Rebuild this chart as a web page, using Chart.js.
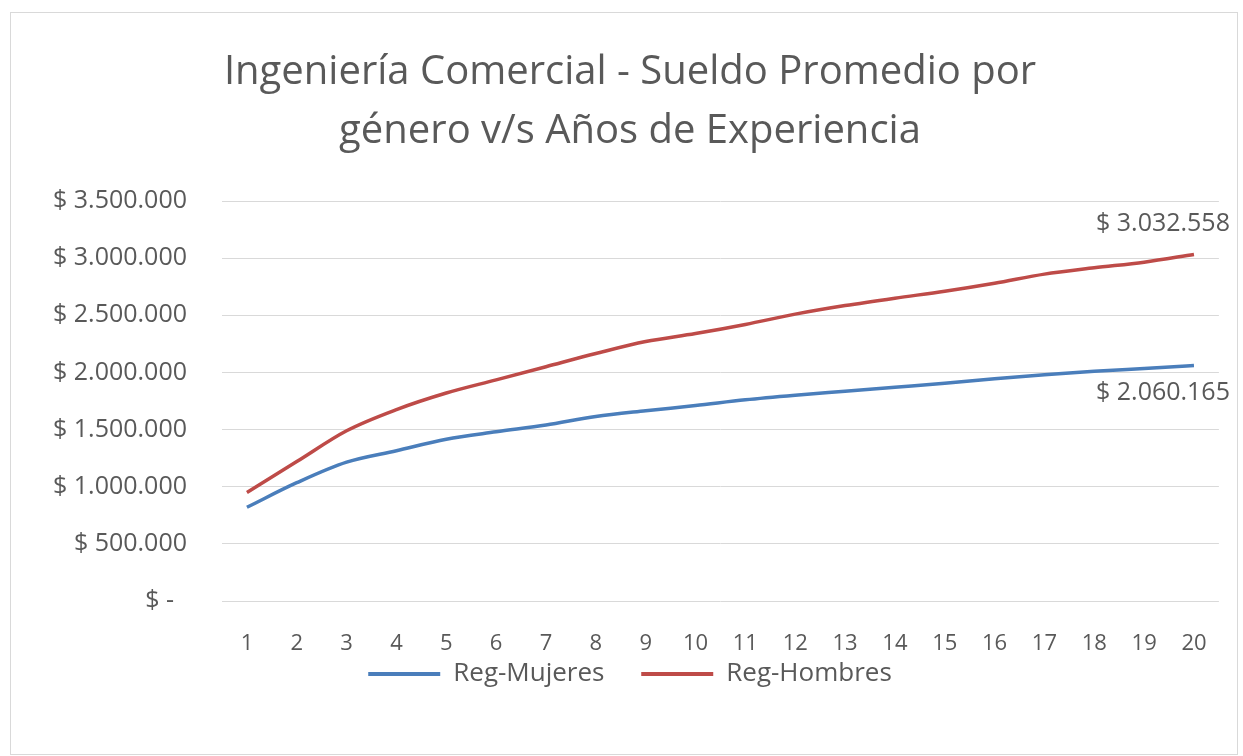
<!DOCTYPE html>
<html>
<head>
<meta charset="utf-8">
<script src="https://cdn.jsdelivr.net/npm/chart.js@4.4.1/dist/chart.umd.min.js"></script>
<style>
  html, body { margin: 0; padding: 0; background: #ffffff; }
  #frame { position: absolute; left: 10px; top: 12px; width: 1226px; height: 741px; border: 1px solid #d9d9d9; background: #fff; }
  #c { display: block; }
</style>
</head>
<body>
<div id="frame"><canvas id="c" width="1226" height="741"></canvas></div>
<script>
const categories = ['1','2','3','4','5','6','7','8','9','10','11','12','13','14','15','16','17','18','19','20'];
const regMujeres = [820000, 1035000, 1215000, 1315000, 1415000, 1480000, 1540000, 1615000, 1665000, 1710000, 1760000, 1800000, 1835000, 1870000, 1905000, 1945000, 1980000, 2010000, 2035000, 2060165];
const regHombres = [950000, 1220000, 1490000, 1675000, 1820000, 1935000, 2050000, 2165000, 2270000, 2340000, 2420000, 2510000, 2585000, 2650000, 2710000, 2780000, 2860000, 2915000, 2965000, 3032558];
const seriesNames = ['Reg-Mujeres', 'Reg-Hombres'];
const titleLines = ['Ingeniería Comercial - Sueldo Promedio por', 'género v/s Años de Experiencia'];
const yMin = 0, yMax = 3500000, yStep = 500000;

const BLUE = '#4a7ebb';
const RED = '#be4b48';
const TEXT = '#595959';
const FONT = "'Open Sans', 'Liberation Sans', sans-serif";

function fmt(n) {
  return String(Math.round(n)).replace(/\B(?=(\d{3})+(?!\d))/g, '.');
}

const lastLabels = {
  id: 'lastLabels',
  afterDatasetsDraw(chart) {
    const ctx = chart.ctx;
    ctx.save();
    ctx.font = "25px " + FONT;
    ctx.fillStyle = TEXT;
    ctx.textAlign = 'center';
    ctx.textBaseline = 'middle';
    chart.data.datasets.forEach((ds, i) => {
      const meta = chart.getDatasetMeta(i);
      const n = ds.data.length - 1;
      const pt = meta.data[n];
      const txt = '$ ' + fmt(ds.data[n]);
      const dy = i === 1 ? -31 : 27;
      ctx.fillText(txt, pt.x - 31, pt.y + dy);
    });
    ctx.restore();
  }
};

new Chart(document.getElementById('c'), {
  type: 'line',
  data: {
    labels: categories,
    datasets: [
      { label: seriesNames[0], data: regMujeres, borderColor: BLUE, backgroundColor: BLUE, borderWidth: 3.5, pointRadius: 0, cubicInterpolationMode: 'monotone' },
      { label: seriesNames[1], data: regHombres, borderColor: RED, backgroundColor: RED, borderWidth: 3.5, pointRadius: 0, cubicInterpolationMode: 'monotone' }
    ]
  },
  options: {
    responsive: false,
    animation: false,
    layout: { padding: { left: 30, right: 18, top: 0, bottom: 57 } },
    plugins: {
      title: {
        display: true,
        text: titleLines,
        color: TEXT,
        font: { family: FONT, size: 40, weight: 'normal', lineHeight: 1.475 },
        padding: { top: 30, bottom: 40 }
      },
      legend: {
        display: true,
        position: 'bottom',
        labels: {
          color: TEXT,
          font: { family: FONT, size: 26 },
          boxWidth: 72,
          boxHeight: 4,
          padding: 3,
          generateLabels(chart) {
            const n = chart.data.datasets.length;
            return chart.data.datasets.map((ds, i) => ({
              text: ds.label + (i < n - 1 ? '     ' : ''),
              fillStyle: ds.borderColor,
              strokeStyle: ds.borderColor,
              lineWidth: 0,
              fontColor: TEXT,
              datasetIndex: i,
              hidden: false
            }));
          }
        }
      },
      tooltip: { enabled: false }
    },
    scales: {
      x: {
        offset: true,
        afterFit(scale) { scale.height = 57; },
        grid: { display: false, drawTicks: false },
        border: { display: false },
        ticks: { color: TEXT, font: { family: FONT, size: 22 }, padding: 30, maxRotation: 0, autoSkip: false }
      },
      y: {
        min: yMin,
        max: yMax,
        afterFit(scale) { scale.width = 181; },
        grid: { color: '#d9d9d9', lineWidth: 1, drawTicks: false },
        border: { display: false },
        ticks: {
          stepSize: yStep,
          color: TEXT,
          font: { family: FONT, size: 25 },
          padding: 35,
          callback: (v) => v === 0 ? '$ -  ' : '$ ' + fmt(v)
        }
      }
    }
  },
  plugins: [lastLabels]
});
</script>
</body>
</html>
